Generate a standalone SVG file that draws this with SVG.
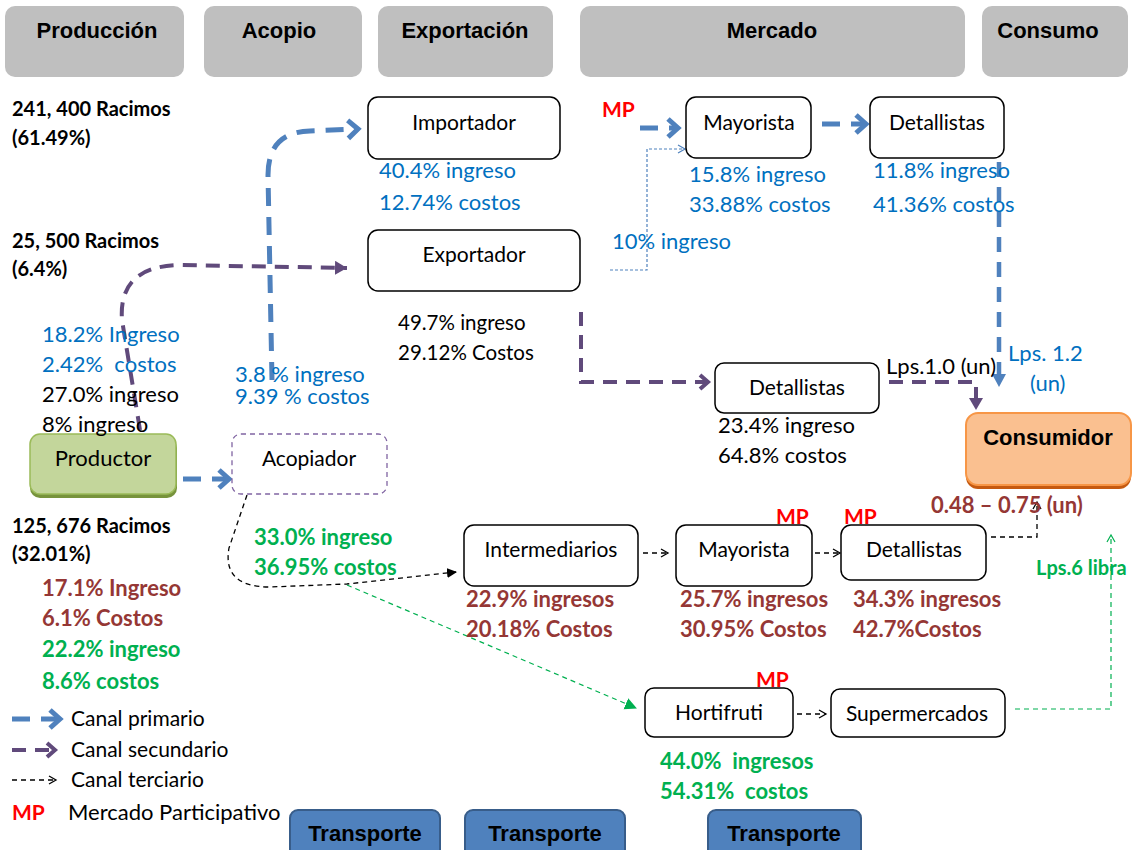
<svg xmlns="http://www.w3.org/2000/svg" width="1134" height="850" viewBox="0 0 1134 850">
<style>
.hdr{fill:#BFBFBF}
.ht{font-family:"Liberation Sans",Arial,sans-serif;font-weight:bold;font-size:22px;fill:#000;text-anchor:middle}
.t{font-family:Lato,"Liberation Sans",sans-serif;font-size:22px}
.b{font-weight:bold}
.rc{font-size:20px}
.s21{font-size:21px}
.s205{font-size:20.5px}
.s20{font-size:20px}
.blk{fill:#000}
.blu{fill:#0070C0}
.brn{fill:#953735}
.grn{fill:#00B050}
.red{fill:#FF0000}
.node{fill:#fff;stroke:#000;stroke-width:1.5}
.nt{font-family:Lato,"Liberation Sans",sans-serif;font-size:21px;fill:#000;text-anchor:middle}
.p1{fill:none;stroke:#4F81BD;stroke-width:5;stroke-dasharray:18 11}
.p2{fill:none;stroke:#604A7B;stroke-width:4;stroke-dasharray:14 9}
.p3{fill:none;stroke:#000;stroke-width:1.3;stroke-dasharray:5 4}
.pg{fill:none;stroke:#00B050;stroke-width:1.2;stroke-dasharray:5 4}
.pb{fill:none;stroke:#4F81BD;stroke-width:1.2;stroke-dasharray:3 2}
.tr{fill:#4F81BD;stroke:#385D8A;stroke-width:2}
</style>
<defs>
<marker id="chB" markerUnits="userSpaceOnUse" markerWidth="20" markerHeight="24" refX="12" refY="11" orient="auto"><path d="M2,2 L12,11 L2,20" fill="none" stroke="#4F81BD" stroke-width="5" stroke-linejoin="miter"/></marker>
<marker id="trB" markerUnits="userSpaceOnUse" markerWidth="16" markerHeight="16" refX="12" refY="7" orient="auto"><path d="M0,0 L13,7 L0,14 Z" fill="#4F81BD"/></marker>
<marker id="chP" markerUnits="userSpaceOnUse" markerWidth="16" markerHeight="20" refX="10" refY="9" orient="auto"><path d="M2,2 L10,9 L2,16" fill="none" stroke="#604A7B" stroke-width="4"/></marker>
<marker id="trP" markerUnits="userSpaceOnUse" markerWidth="16" markerHeight="16" refX="12" refY="7" orient="auto"><path d="M0,0 L12,7 L0,14 Z" fill="#604A7B"/></marker>
<marker id="opK" markerUnits="userSpaceOnUse" markerWidth="12" markerHeight="12" refX="8" refY="5" orient="auto"><path d="M1,1 L8,5 L1,9" fill="none" stroke="#000" stroke-width="1.3"/></marker>
<marker id="trK" markerUnits="userSpaceOnUse" markerWidth="12" markerHeight="12" refX="9" refY="5" orient="auto"><path d="M0,0 L10,5 L0,10 Z" fill="#000"/></marker>
<marker id="trG" markerUnits="userSpaceOnUse" markerWidth="14" markerHeight="14" refX="11" refY="6" orient="auto"><path d="M0,0 L12,6 L0,12 Z" fill="#00B050"/></marker>
<marker id="opG" markerUnits="userSpaceOnUse" markerWidth="12" markerHeight="12" refX="8" refY="5" orient="auto"><path d="M1,1 L8,5 L1,9" fill="none" stroke="#00B050" stroke-width="1.2"/></marker>
<marker id="opBt" markerUnits="userSpaceOnUse" markerWidth="12" markerHeight="12" refX="8" refY="5" orient="auto"><path d="M1,1 L8,5 L1,9" fill="none" stroke="#4F81BD" stroke-width="1.2"/></marker>
</defs>

<g id="headers">
<rect class="hdr" x="5" y="6" width="179" height="71" rx="10"/>
<rect class="hdr" x="204" y="6" width="158" height="71" rx="10"/>
<rect class="hdr" x="378" y="6" width="175" height="71" rx="10"/>
<rect class="hdr" x="580" y="6" width="385" height="71" rx="10"/>
<rect class="hdr" x="982" y="6" width="146" height="71" rx="10"/>
<text class="ht" x="97" y="38">Producción</text>
<text class="ht" x="279" y="38">Acopio</text>
<text class="ht" x="465" y="38">Exportación</text>
<text class="ht" x="772" y="38">Mercado</text>
<text class="ht" x="1048" y="38">Consumo</text>
</g>

<g id="connectors">
<path class="p1" d="M272 380 L268 175 Q268 132 310 131 L358 129" marker-end="url(#chB)"/>
<path class="p1" d="M640 128 L678 128" marker-end="url(#chB)"/>
<path class="p1" d="M822 124 L866 124" marker-end="url(#chB)"/>
<path class="p1" d="M999 162 L999 386" style="stroke-width:4.5;stroke-dasharray:15 10" marker-end="url(#trB)"/>
<path class="p1" d="M183 479 L229 479" marker-end="url(#chB)"/>
<path class="p2" d="M140 430 L122 320 Q118 266 180 265 L347 268" marker-end="url(#trP)"/>
<path class="p2" d="M581 312 L581 382 L708 382" marker-end="url(#chP)"/>
<path class="p2" d="M889 382 L976 382 L976 410" marker-end="url(#trP)"/>
<path class="pb" d="M610 270 L647 270 L647 149 L685 149" marker-end="url(#opBt)"/>
<path class="p3" d="M247 495 L229 548 Q222 587 270 587 L347 584 L456 572" marker-end="url(#trK)"/>
<path class="p3" d="M643 553 L668 553" marker-end="url(#opK)"/>
<path class="p3" d="M815 553 L840 553" marker-end="url(#opK)"/>
<path class="p3" d="M797 714 L826 714" marker-end="url(#opK)"/>
<path class="p3" d="M991 537 L1037 537 L1037 502" marker-end="url(#opK)"/>
<path class="pg" d="M347 585 L636 708" marker-end="url(#trG)"/>
<path class="pg" d="M1015 709 L1111 709 L1111 535" marker-end="url(#opG)"/>
</g>

<g id="importador"><rect class="node" x="368" y="97" width="192" height="62" rx="10"/><text class="nt" x="464" y="130">Importador</text></g>
<g id="exportador"><rect class="node" x="368" y="230" width="212" height="61" rx="10"/><text class="nt" x="474" y="262">Exportador</text></g>
<g id="mayorista1"><rect class="node" x="686" y="97" width="125" height="61" rx="10"/><text class="nt" x="749" y="130">Mayorista</text></g>
<g id="detallistas1"><rect class="node" x="870" y="97" width="134" height="61" rx="10"/><text class="nt" x="937" y="130">Detallistas</text></g>
<g id="detallistas2"><rect class="node" x="715" y="363" width="164" height="50" rx="9"/><text class="nt" x="797" y="395">Detallistas</text></g>
<g id="consumidor"><rect x="966" y="417" width="165" height="72" rx="12" fill="#C55A11"/><rect x="966" y="413" width="165" height="72" rx="12" fill="#FAC090" stroke="#F79646" stroke-width="2"/><text class="ht" x="1048" y="445">Consumidor</text></g>
<g id="productor"><rect x="30" y="438" width="147" height="60" rx="10" fill="#77933C"/><rect x="30" y="434" width="146" height="60" rx="10" fill="#C3D69B" stroke="#9BBB59" stroke-width="1.5"/><text class="nt" x="103" y="466" style="font-size:22px">Productor</text></g>
<g id="acopiador"><rect x="232" y="434" width="155" height="60" rx="9" fill="#fff" stroke="#8064A2" stroke-width="1.3" stroke-dasharray="5 4"/><text class="nt" x="309" y="466">Acopiador</text></g>
<g id="intermediarios"><rect class="node" x="464" y="525" width="174" height="61" rx="10"/><text class="nt" x="551" y="557">Intermediarios</text></g>
<g id="mayorista2"><rect class="node" x="676" y="525" width="136" height="61" rx="10"/><text class="nt" x="744" y="557">Mayorista</text></g>
<g id="detallistas3"><rect class="node" x="841" y="525" width="145" height="55" rx="10"/><text class="nt" x="914" y="557">Detallistas</text></g>
<g id="hortifruti"><rect class="node" x="645" y="688" width="148" height="49" rx="9"/><text class="nt" x="719" y="720">Hortifruti</text></g>
<g id="supermercados"><rect class="node" x="831" y="689" width="174" height="48" rx="9"/><text class="nt" x="917" y="721">Supermercados</text></g>
<g id="transporte1"><rect class="tr" x="290" y="810" width="150" height="50" rx="8"/><text class="ht" x="365" y="841">Transporte</text></g>
<g id="transporte2"><rect class="tr" x="465" y="810" width="160" height="50" rx="8"/><text class="ht" x="545" y="841">Transporte</text></g>
<g id="transporte3"><rect class="tr" x="708" y="810" width="153" height="50" rx="8"/><text class="ht" x="784" y="841">Transporte</text></g>

<g id="labels">
<text class="t b blk rc" x="12" y="116">241, 400 Racimos</text>
<text class="t b blk rc" x="12" y="145">(61.49%)</text>
<text class="t b blk rc" x="12" y="248">25, 500 Racimos</text>
<text class="t b blk rc" x="12" y="276">(6.4%)</text>
<text class="t blu" x="42" y="342">18.2% Ingreso</text>
<text class="t blu" x="42" y="372" xml:space="preserve">2.42%  costos</text>
<text class="t blk" x="42" y="402">27.0% ingreso</text>
<text class="t blk" x="42" y="432">8% ingreso</text>
<text class="t blu" x="235" y="382">3.8 % ingreso</text>
<text class="t blu" x="235" y="404">9.39 % costos</text>
<text class="t blu" x="379" y="178">40.4% ingreso</text>
<text class="t blu" x="379" y="210">12.74% costos</text>
<text class="t blk s205" x="398" y="330">49.7% ingreso</text>
<text class="t blk s205" x="398" y="360">29.12% Costos</text>
<text class="t b red s21" x="602" y="117">MP</text>
<text class="t blu" x="612" y="249">10% ingreso</text>
<text class="t blu" x="689" y="182">15.8% ingreso</text>
<text class="t blu" x="689" y="212">33.88% costos</text>
<text class="t blu" x="873" y="178">11.8% ingreso</text>
<text class="t blu" x="873" y="212">41.36% costos</text>
<text class="t blk" x="886" y="374">Lps.1.0 (un)</text>
<text class="t blu" x="1008" y="361">Lps. 1.2</text>
<text class="t blu" x="1030" y="391">(un)</text>
<text class="t blk" x="718" y="433">23.4% ingreso</text>
<text class="t blk" x="718" y="463">64.8% costos</text>
<text class="t b blk rc" x="12" y="533">125, 676 Racimos</text>
<text class="t b blk rc" x="12" y="561">(32.01%)</text>
<text class="t b brn" x="42" y="596">17.1% Ingreso</text>
<text class="t b brn" x="42" y="626">6.1% Costos</text>
<text class="t b grn" x="42" y="657">22.2% ingreso</text>
<text class="t b grn" x="42" y="689">8.6% costos</text>
<text class="t b grn" x="254" y="545">33.0% ingreso</text>
<text class="t b grn" x="254" y="575">36.95% costos</text>
<text class="t b brn" x="466" y="607">22.9% ingresos</text>
<text class="t b brn" x="466" y="637">20.18% Costos</text>
<text class="t b brn" x="680" y="607">25.7% ingresos</text>
<text class="t b brn" x="680" y="637">30.95% Costos</text>
<text class="t b brn" x="853" y="607">34.3% ingresos</text>
<text class="t b brn" x="853" y="637">42.7%Costos</text>
<text class="t b red s21" x="776" y="524">MP</text>
<text class="t b red s21" x="844" y="524">MP</text>
<text class="t b red s21" x="756" y="687">MP</text>
<text class="t b brn" x="931" y="513">0.48 – 0.75 (un)</text>
<text class="t b grn s20" x="1036" y="575">Lps.6 libra</text>
<text class="t b grn" x="660" y="769" xml:space="preserve">44.0%  ingresos</text>
<text class="t b grn" x="660" y="799" xml:space="preserve">54.31%  costos</text>
</g>

<g id="legend">
<path class="p1" d="M12 719 L60 719" marker-end="url(#chB)"/>
<path class="p2" d="M12 750 L55 750" marker-end="url(#chP)"/>
<path class="p3" d="M12 780 L56 780" marker-end="url(#opK)"/>
<text class="t blk s21" x="71" y="726">Canal primario</text>
<text class="t blk s21" x="71" y="757">Canal secundario</text>
<text class="t blk s21" x="71" y="787">Canal terciario</text>
<text class="t b red s21" x="12" y="820">MP</text>
<text class="t blk" x="68" y="820">Mercado Participativo</text>
</g>
</svg>
